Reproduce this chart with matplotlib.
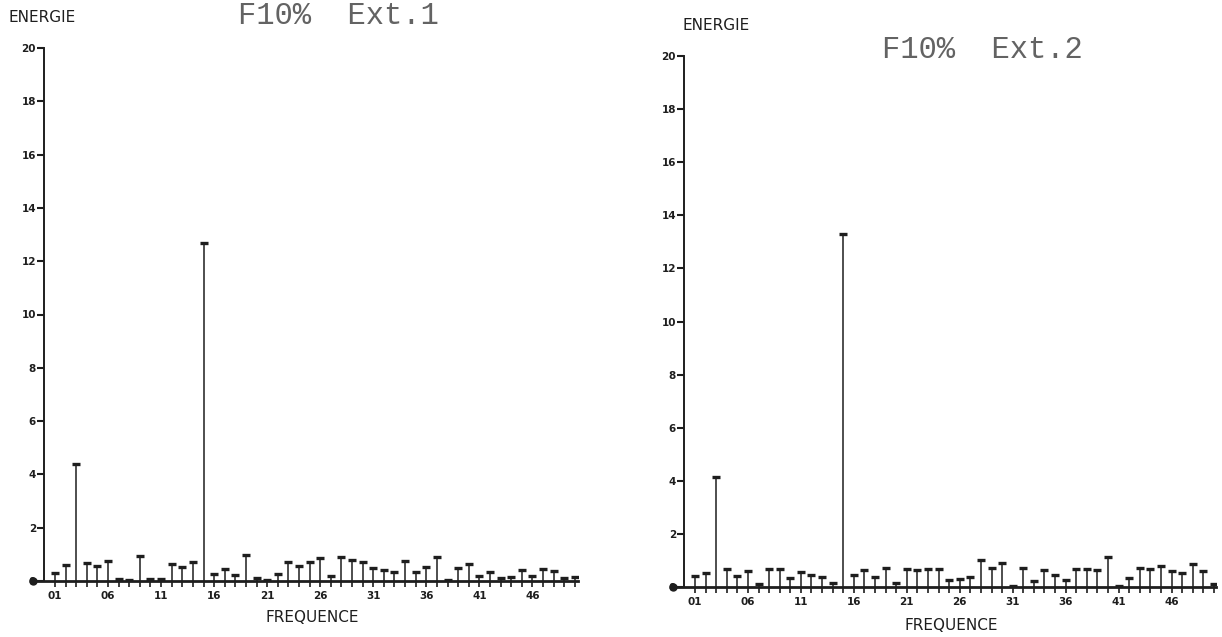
import matplotlib.pyplot as plt
import numpy as np

# frequency index 1..50
freq = np.arange(1, 51)

energy_ext1 = [0.29, 0.59, 4.40, 0.69, 0.56, 0.76, 0.07, 0.05, 0.94, 0.07,
               0.07, 0.62, 0.54, 0.70, 12.70, 0.25, 0.46, 0.24, 0.97, 0.12,
               0.05, 0.27, 0.72, 0.58, 0.70, 0.87, 0.17, 0.89, 0.80, 0.71,
               0.49, 0.42, 0.34, 0.76, 0.32, 0.51, 0.90, 0.02, 0.50, 0.65,
               0.17, 0.34, 0.12, 0.15, 0.40, 0.17, 0.46, 0.37, 0.11, 0.15]

energy_ext2 = [0.40, 0.53, 4.14, 0.69, 0.40, 0.59, 0.12, 0.69, 0.69, 0.35,
               0.55, 0.44, 0.38, 0.15, 13.28, 0.46, 0.65, 0.38, 0.73, 0.15,
               0.66, 0.63, 0.69, 0.66, 0.28, 0.32, 0.36, 1.00, 0.73, 0.90,
               0.03, 0.73, 0.21, 0.63, 0.44, 0.28, 0.68, 0.68, 0.63, 1.12,
               0.03, 0.35, 0.70, 0.69, 0.78, 0.59, 0.53, 0.85, 0.61, 0.13]

yticks = [0, 2, 4, 6, 8, 10, 12, 14, 16, 18, 20]
xtick_pos = [1, 6, 11, 16, 21, 26, 31, 36, 41, 46]
xtick_labels = ["01", "06", "11", "16", "21", "26", "31", "36", "41", "46"]

ink = '#1e1e1e'


def spectrum(fig, rect, values, title, title_xy, ylab_xy, xlab_xy, xlim):
    ax = fig.add_axes(rect)
    ax.vlines(freq, 0, values, color=ink, linewidth=1.1)
    ax.plot(freq, values, linestyle='none', marker='_', markersize=6,
            markeredgewidth=2.4, color=ink)
    # blob at the start of the frequency axis
    ax.plot([xlim[0]], [0], marker='o', markersize=5, color=ink, clip_on=False)

    ax.set_xlim(*xlim)
    ax.set_ylim(0, 20)
    for s in ['top', 'right']:
        ax.spines[s].set_visible(False)
    ax.spines['left'].set_position(('data', 0))
    ax.spines['left'].set_linewidth(1.4)
    ax.spines['bottom'].set_linewidth(2.0)
    ax.spines['left'].set_color(ink)
    ax.spines['bottom'].set_color(ink)

    ax.set_yticks(yticks)
    ax.set_yticklabels([str(v) for v in yticks], fontsize=7.5, fontweight='bold')
    ax.tick_params(axis='y', direction='out', length=5, width=1.5, pad=1, colors=ink)

    ax.set_xticks(freq)
    ax.set_xticklabels([xtick_labels[xtick_pos.index(f)] if f in xtick_pos else ''
                        for f in freq], fontsize=7.5, fontweight='bold')
    ax.tick_params(axis='x', direction='out', length=4, width=1.2, pad=3, colors=ink)

    fig.text(*ylab_xy, "ENERGIE", fontsize=11, color=ink, va='center', ha='left')
    fig.text(*xlab_xy, "FREQUENCE", fontsize=11, color=ink, va='center', ha='center')
    fig.text(*title_xy, title, fontsize=22, family='Liberation Mono',
             color='#636363', va='center', ha='center')
    return ax


fig = plt.figure(figsize=(12.22, 6.37), dpi=100)
W, H = 1222.0, 637.0

# left panel: x=-1.1 at 32.7 px, x=50.3 at 578 px; y=0 at 581 px, y=20 at 48 px
spectrum(fig, [32.7 / W, (H - 581) / H, (578 - 32.7) / W, (581 - 48) / H],
         energy_ext1, "F10%  Ext.1", (338 / W, (H - 16) / H),
         (8 / W, (H - 17) / H), (312 / W, (H - 618) / H), (-1.1, 50.3))

# right panel: x=-1.05 at 673.3 px, x=50.15 at 1215.5 px; y=0 at 587 px, y=20 at 56 px
spectrum(fig, [673.3 / W, (H - 587) / H, (1215.5 - 673.3) / W, (587 - 56) / H],
         energy_ext2, "F10%  Ext.2", (982 / W, (H - 50) / H),
         (682 / W, (H - 25) / H), (951 / W, (H - 625) / H), (-1.05, 50.15))

fig.savefig('out.png', dpi=100)
